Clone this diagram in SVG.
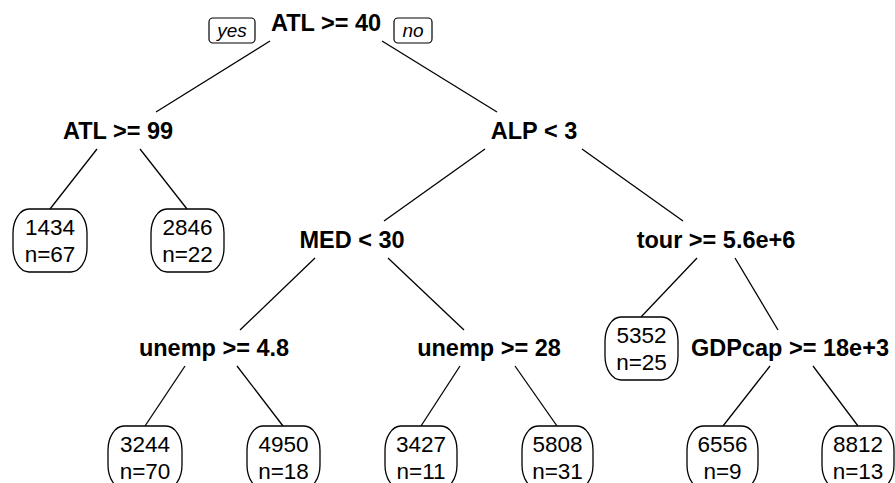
<svg xmlns="http://www.w3.org/2000/svg" width="895" height="483" viewBox="0 0 895 483">
<style>
.split{font-family:"Liberation Sans",Arial,sans-serif;font-weight:bold;font-size:23.5px;fill:#000;text-anchor:middle}
.leaf text{font-family:"Liberation Sans",Arial,sans-serif;font-size:22.5px;fill:#000;text-anchor:middle}
.leaf rect{fill:#fff;stroke:#000;stroke-width:1.3}
.lab rect{fill:#fff;stroke:#000;stroke-width:1.2}
.lab text{font-family:"Liberation Sans",Arial,sans-serif;font-style:italic;font-size:19px;fill:#000;text-anchor:middle}
.edges line{stroke:#000;stroke-width:1.3}
</style>
<rect width="895" height="483" fill="#fff"/>
<g class="edges" id="connectors">
<line x1="270" y1="41" x2="156" y2="112"/>
<line x1="382" y1="41" x2="497" y2="112"/>
<line x1="97" y1="149" x2="50" y2="209"/>
<line x1="140" y1="149" x2="187" y2="209"/>
<line x1="485" y1="149" x2="384" y2="221"/>
<line x1="582" y1="149" x2="683" y2="221"/>
<line x1="315" y1="258" x2="240" y2="330"/>
<line x1="388" y1="258" x2="464" y2="330"/>
<line x1="697" y1="258" x2="641" y2="317"/>
<line x1="735" y1="258" x2="778" y2="330"/>
<line x1="185" y1="366" x2="145" y2="426"/>
<line x1="237" y1="366" x2="283" y2="426"/>
<line x1="460" y1="366" x2="421" y2="426"/>
<line x1="515" y1="366" x2="557" y2="426"/>
<line x1="770" y1="366" x2="723" y2="426"/>
<line x1="813" y1="366" x2="858" y2="426"/>
</g>
<g id="lab-yes" class="lab"><rect x="209" y="18" width="46" height="25" rx="4"/><text x="232" y="37">yes</text></g>
<g id="lab-no" class="lab"><rect x="394" y="18" width="38" height="25" rx="4"/><text x="413" y="37">no</text></g>
<g id="n1"><text class="split" x="326" y="31">ATL &gt;= 40</text></g>
<g id="n2"><text class="split" x="118" y="139">ATL &gt;= 99</text></g>
<g id="n3"><text class="split" x="534" y="139">ALP &lt; 3</text></g>
<g id="n6"><text class="split" x="352" y="248">MED &lt; 30</text></g>
<g id="n7"><text class="split" x="716" y="248">tour &gt;= 5.6e+6</text></g>
<g id="n12"><text class="split" x="214" y="356">unemp &gt;= 4.8</text></g>
<g id="n13"><text class="split" x="489" y="356">unemp &gt;= 28</text></g>
<g id="n15"><text class="split" x="790" y="356">GDPcap &gt;= 18e+3</text></g>
<g id="leaf4" class="leaf"><rect x="13" y="209" width="74" height="63" rx="16" ry="24"/><text x="50" y="235">1434</text><text x="50" y="262">n=67</text></g>
<g id="leaf5" class="leaf"><rect x="151" y="209" width="73" height="63" rx="16" ry="24"/><text x="187.5" y="235">2846</text><text x="187.5" y="262">n=22</text></g>
<g id="leaf14" class="leaf"><rect x="605" y="317" width="73" height="63" rx="16" ry="24"/><text x="641.5" y="343">5352</text><text x="641.5" y="370">n=25</text></g>
<g id="leaf24" class="leaf"><rect x="108" y="426" width="74" height="63" rx="16" ry="24"/><text x="145" y="452">3244</text><text x="145" y="479">n=70</text></g>
<g id="leaf25" class="leaf"><rect x="247" y="426" width="73" height="63" rx="16" ry="24"/><text x="283.5" y="452">4950</text><text x="283.5" y="479">n=18</text></g>
<g id="leaf26" class="leaf"><rect x="385" y="426" width="72" height="63" rx="16" ry="24"/><text x="421" y="452">3427</text><text x="421" y="479">n=11</text></g>
<g id="leaf27" class="leaf"><rect x="522" y="426" width="71" height="63" rx="16" ry="24"/><text x="557.5" y="452">5808</text><text x="557.5" y="479">n=31</text></g>
<g id="leaf30" class="leaf"><rect x="687" y="426" width="71" height="63" rx="16" ry="24"/><text x="722.5" y="452">6556</text><text x="722.5" y="479">n=9</text></g>
<g id="leaf31" class="leaf"><rect x="822" y="426" width="72" height="63" rx="16" ry="24"/><text x="858" y="452">8812</text><text x="858" y="479">n=13</text></g>
</svg>
